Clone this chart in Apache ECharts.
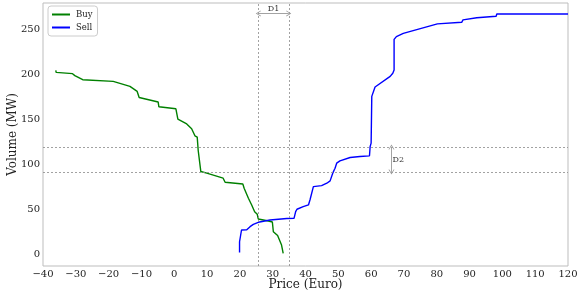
<!DOCTYPE html>
<html>
<head>
<meta charset="utf-8">
<script src="https://cdn.jsdelivr.net/npm/echarts@6/dist/echarts.min.js"></script>
<style>
html,body{margin:0;padding:0;background:#fff;}
#main{width:577px;height:294px;}
</style>
</head>
<body>
<div id="main"></div>
<script>
// ---- data ----
const buyPrice  = [-36.1,-36.0,-31.0,-30.3,-27.9,-18.6,-13.5,-11.3,-10.7,-10.2,-4.9,-4.7,0.5,1.1,1.5,3.8,5.3,6.3,7.0,7.3,7.6,8.1,8.5,9.9,14.9,15.5,20.9,21.3,21.9,22.6,23.1,23.6,24.1,24.5,24.9,25.3,25.6,28.7,29.9,30.2,31.5,32.1,32.7,33.1,33.2];
const buyVolume = [204.6,202.3,200.9,198.7,194.2,192.3,186.7,181.1,174.4,173.8,169.3,164.1,161.8,150.3,148.8,144.9,139.5,131.7,130.2,115.3,113.1,91.9,90.7,90.1,84.5,80.0,78.1,73.3,71.4,62.2,61.4,54.7,53.9,47.2,45.4,44.3,39.1,36.8,35.7,24.9,20.6,18.6,10.0,7.8,0.8];

const sellPrice  = [19.9,19.9,20.2,20.5,22.1,23.1,24.1,25.6,29.2,34.3,36.5,37.0,37.4,39.3,40.9,41.4,42.4,44.9,46.5,47.5,48.3,49.0,49.5,50.5,53.6,56.6,59.5,59.7,60.0,60.2,61.2,65.8,66.6,67.0,67.0,67.7,69.8,80.2,87.6,88.0,92.2,98.1,98.3,120.0];
const sellVolume = [1.7,13.7,15.6,26.8,27.1,30.5,33.1,35.4,37.9,39.6,39.8,47.2,49.9,52.8,54.7,60.8,75.1,76.2,78.9,81.5,90.1,95.6,101.2,103.8,107.5,108.6,109.4,119.8,123.5,175.6,186.0,197.9,201.4,205.0,239.1,242.2,245.8,256.4,258.1,260.8,263.1,264.8,267.3,267.3];

const xTicks = [-40,-30,-20,-10,0,10,20,30,40,50,60,70,80,90,100,110,120];
const yTicks = [0,50,100,150,200,250];

const d1Prices  = [25.6, 34.9];   // vertical dashed lines
const d1ArrowVolume = 268;
const d2Volumes = [91.5, 119.1];  // horizontal dashed lines
const d2ArrowPrice = 66.2;

// ---- chart ----
const FONT = 'DejaVu Serif';
const pairs = (xs, ys) => xs.map((x, i) => [x, ys[i]]);
const minus = v => String(v).replace('-', '\u2212');
const guideStyle = {color: '#8a8a8a', width: 0.8, type: [2, 2]};
const arrowStyle = {color: '#999', width: 0.9, type: 'solid'};
const chevron = 'path://M0,10 L5,0 L10,10 L8.6,10 L5,2.8 L1.4,10 Z';

const chart = echarts.init(document.getElementById('main'), null, {renderer: 'canvas'});
chart.setOption({
  animation: false,
  textStyle: {fontFamily: FONT},
  grid: {left: 43, right: 9, top: 3, bottom: 28, outerBoundsMode: 'none', containLabel: false,
         show: true, borderColor: '#bdbdbd', borderWidth: 1, backgroundColor: '#fff'},
  legend: {
    orient: 'vertical', left: 48, top: 6,
    itemWidth: 18, itemHeight: 10, itemGap: 4,
    padding: [4, 5, 4, 3],
    borderColor: '#cccccc', borderWidth: 1, borderRadius: 3,
    backgroundColor: '#fff',
    itemStyle: {opacity: 0},
    textStyle: {fontFamily: FONT, fontSize: 8.5, color: '#222', padding: [0, 0, 0, 1]},
    data: ['Buy', 'Sell']
  },
  xAxis: {
    type: 'value', min: -40, max: 120, interval: 10,
    name: 'Price (Euro)', nameLocation: 'middle', nameGap: 19, nameMoveOverlap: false,
    nameTextStyle: {fontFamily: FONT, fontSize: 12, color: '#222', verticalAlign: 'middle'},
    axisLine: {show: false}, axisTick: {show: false}, splitLine: {show: false},
    axisLabel: {customValues: xTicks, fontFamily: FONT, fontSize: 10, color: '#222', margin: 3, formatter: minus}
  },
  yAxis: {
    type: 'value', min: -13.3, max: 279.6,
    name: 'Volume (MW)', nameLocation: 'middle', nameGap: 30, nameMoveOverlap: false,
    nameTextStyle: {fontFamily: FONT, fontSize: 12, color: '#222', verticalAlign: 'middle'},
    axisLine: {show: false}, axisTick: {show: false}, splitLine: {show: false},
    axisLabel: {customValues: yTicks, fontFamily: FONT, fontSize: 10, color: '#222', margin: 3, formatter: minus}
  },
  series: [
    {
      name: 'Buy', type: 'line', showSymbol: false, symbol: 'none',
      lineStyle: {color: '#008000', width: 1.4}, itemStyle: {color: '#008000'},
      data: pairs(buyPrice, buyVolume), z: 3,
      markLine: {
        silent: true, symbol: ['none', 'none'], animation: false,
        label: {show: false}, lineStyle: guideStyle,
        data: d1Prices.map(p => ({xAxis: p})).concat(d2Volumes.map(v => ({yAxis: v})))
      }
    },
    {
      name: 'Sell', type: 'line', showSymbol: false, symbol: 'none',
      lineStyle: {color: '#0000ff', width: 1.4}, itemStyle: {color: '#0000ff'},
      data: pairs(sellPrice, sellVolume), z: 3,
      markLine: {
        silent: true, symbol: [chevron, chevron], symbolSize: [6, 5], animation: false,
        label: {show: false}, lineStyle: arrowStyle,
        data: [
          [{coord: [d1Prices[0], d1ArrowVolume]}, {coord: [d1Prices[1], d1ArrowVolume]}],
          [{coord: [d2ArrowPrice, d2Volumes[0]]}, {coord: [d2ArrowPrice, d2Volumes[1]]}]
        ]
      },
      markPoint: {
        silent: true, symbol: 'circle', symbolSize: 0, animation: false,
        data: [
          {coord: [(d1Prices[0] + d1Prices[1]) / 2, d1ArrowVolume], label: {show: true, formatter: 'D1', position: 'top', distance: 0, fontFamily: FONT, fontSize: 8, color: '#333'}},
          {coord: [d2ArrowPrice, (d2Volumes[0] + d2Volumes[1]) / 2], label: {show: true, formatter: 'D2', position: 'right', distance: 1, fontFamily: FONT, fontSize: 8, color: '#333'}}
        ]
      }
    }
  ]
});
</script>
</body>
</html>
